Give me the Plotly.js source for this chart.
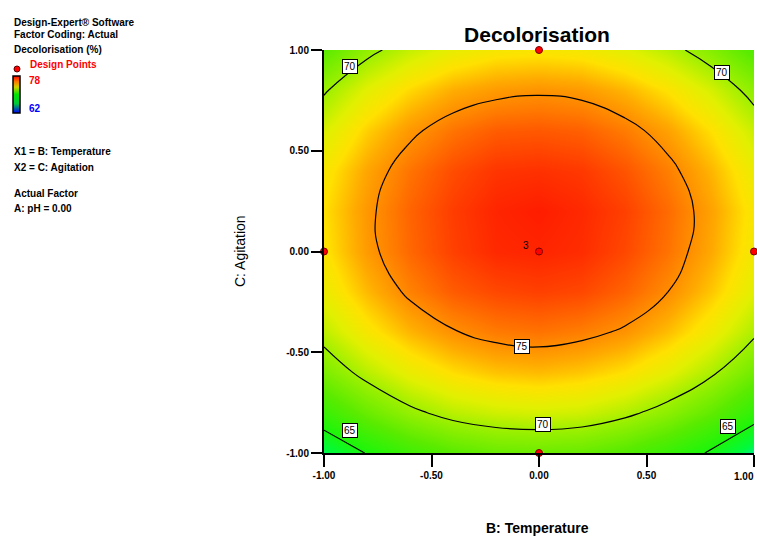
<!DOCTYPE html>
<html>
<head>
<meta charset="utf-8">
<script src="https://cdn.plot.ly/plotly-3.0.1.min.js"></script>
<style>html,body{margin:0;padding:0;background:#fff;}#chart{width:757px;height:536px;}</style>
</head>
<body>
<div id="chart"></div>
<script>
// Coded factor levels (B: Temperature on x, C: Agitation on y)
var gridX = [-1, -0.8, -0.6, -0.4, -0.2, 0, 0.2, 0.4, 0.6, 0.8, 1];
var gridY = [-1, -0.8, -0.6, -0.4, -0.2, 0, 0.2, 0.4, 0.6, 0.8, 1];
// Decolorisation (%), rows = gridY, cols = gridX
var decolor = [
  [63.3, 65.1, 66.5, 67.5, 68.1, 68.2, 68.0, 67.3, 66.2, 64.8, 62.8],
  [66.3, 68.1, 69.6, 70.6, 71.1, 71.3, 71.1, 70.4, 69.3, 67.8, 65.9],
  [68.8, 70.6, 72.0, 73.0, 73.6, 73.8, 73.5, 72.9, 71.8, 70.3, 68.4],
  [70.7, 72.5, 73.9, 74.9, 75.5, 75.7, 75.4, 74.8, 73.7, 72.2, 70.3],
  [72.0, 73.8, 75.3, 76.3, 76.8, 77.0, 76.8, 76.1, 75.0, 73.5, 71.6],
  [72.7, 74.6, 76.0, 77.0, 77.6, 77.7, 77.5, 76.8, 75.7, 74.2, 72.3],
  [72.9, 74.7, 76.1, 77.1, 77.7, 77.9, 77.6, 77.0, 75.9, 74.4, 72.5],
  [72.5, 74.3, 75.7, 76.7, 77.3, 77.4, 77.2, 76.5, 75.4, 73.9, 72.0],
  [71.4, 73.3, 74.7, 75.7, 76.3, 76.4, 76.2, 75.5, 74.4, 72.9, 71.0],
  [69.8, 71.7, 73.1, 74.1, 74.6, 74.8, 74.6, 73.9, 72.8, 71.3, 69.4],
  [67.6, 69.5, 70.9, 71.9, 72.5, 72.6, 72.4, 71.7, 70.6, 69.1, 67.2]
];
// Design points
var designX = [0, 0, -1, 1, 0];
var designY = [1, -1, 0, 0, 0];
// Contour labels
var labelText = ["70", "70", "75", "70", "65", "65"];
var labelX = [-0.88, 0.85, -0.08, 0.02, -0.88, 0.88];
var labelY = [0.92, 0.89, -0.47, -0.86, -0.89, -0.87];
var tickVals = [-1, -0.5, 0, 0.5, 1];
var tickText = ["-1.00", "-0.50", "0.00", "0.50", "1.00"];
var zLow = 62, zHigh = 78;

var cscale = [
  [0, 'rgb(0,0,255)'],
  [0.02, 'rgb(0,210,210)'],
  [0.06, 'rgb(0,240,120)'],
  [0.1, 'rgb(0,250,60)'],
  [0.2, 'rgb(30,245,10)'],
  [0.35, 'rgb(90,235,0)'],
  [0.5, 'rgb(160,240,0)'],
  [0.6, 'rgb(225,240,0)'],
  [0.68, 'rgb(255,225,0)'],
  [0.76, 'rgb(255,170,0)'],
  [0.84, 'rgb(255,125,0)'],
  [0.92, 'rgb(255,75,0)'],
  [1, 'rgb(255,25,0)']
];
var barScale = [
  [0, 'rgb(0,0,255)'],
  [0.25, 'rgb(0,200,60)'],
  [0.5, 'rgb(0,230,0)'],
  [0.7, 'rgb(210,210,0)'],
  [0.85, 'rgb(255,120,0)'],
  [1, 'rgb(255,0,0)']
];

var contour = {
  type: 'contour', x: gridX, y: gridY, z: decolor,
  zmin: zLow, zmax: zHigh, zauto: false,
  colorscale: cscale, showscale: false,
  contours: {coloring: 'heatmap', start: 65, end: 75, size: 5, showlabels: false},
  line: {color: '#000', width: 1.2, smoothing: 1.3},
  zsmooth: 'best',
  hoverinfo: 'skip'
};

var scaleKey = {
  type: 'scatter', mode: 'markers', x: [null], y: [null],
  marker: {color: [zLow], cmin: zLow, cmax: zHigh, colorscale: barScale, showscale: true,
    colorbar: {
      x: (13 - 324) / 430, xanchor: 'left', xpad: 0,
      y: (453 - 76) / 403, yanchor: 'top', ypad: 0,
      len: 37, lenmode: 'pixels', thickness: 7, thicknessmode: 'pixels',
      outlinewidth: 1.5, outlinecolor: '#000',
      showticklabels: false, ticks: ''
    }},
  hoverinfo: 'skip', showlegend: false
};

var points = {
  type: 'scatter', mode: 'markers', x: designX, y: designY,
  marker: {color: 'rgb(255,0,0)', size: 7, line: {color: 'rgb(120,0,0)', width: 1}},
  cliponaxis: false, hoverinfo: 'skip', showlegend: false
};

function px(x) { return (x - 324) / 430; }
function py(y) { return (453 - y) / 403; }

var legendFont = {family: 'Liberation Sans, Arial, sans-serif', size: 10, color: '#000', weight: 'bold'};
var ann = [];
function leftText(t, x, y, color) {
  ann.push({xref: 'paper', yref: 'paper', x: px(x), y: py(y), xanchor: 'left', yanchor: 'middle',
    text: t, showarrow: false, font: Object.assign({}, legendFont, color ? {color: color} : {})});
}
leftText('Design-Expert® Software', 12, 22);
leftText('Factor Coding: Actual', 12, 35);
leftText('Decolorisation (%)', 12, 49);
leftText('Design Points', 28, 64, 'rgb(255,0,0)');
leftText(String(zHigh), 27, 81, 'rgb(255,0,0)');
leftText(String(zLow), 27, 108, 'rgb(0,0,255)');
leftText('X1 = B: Temperature', 12, 152);
leftText('X2 = C: Agitation', 12, 167);
leftText('Actual Factor', 12, 193);
leftText('A: pH = 0.00', 12, 208);

for (var i = 0; i < labelText.length; i++) {
  ann.push({xref: 'x', yref: 'y', x: labelX[i], y: labelY[i], text: labelText[i], showarrow: false,
    bgcolor: '#fff', bordercolor: '#000', borderwidth: 1, borderpad: 1,
    font: {family: 'Liberation Sans, Arial, sans-serif', size: 10, color: '#000'}});
}
ann.push({xref: 'x', yref: 'y', x: -0.06, y: 0.03, text: '3', showarrow: false,
  font: {family: 'Liberation Sans, Arial, sans-serif', size: 10, color: '#000'}});
// last x tick label, kept inside the window
ann.push({xref: 'paper', yref: 'paper', x: px(756), y: py(477), text: tickText[4], showarrow: false,
  xanchor: 'right', yanchor: 'middle', font: {family: 'Liberation Sans, Arial, sans-serif', size: 10, color: '#000', weight: 'bold'}});
ann.push({xref: 'paper', yref: 'paper', x: px(537), y: py(528), text: 'B: Temperature', showarrow: false,
  xanchor: 'center', yanchor: 'middle',
  font: {family: 'Liberation Sans, Arial, sans-serif', size: 14, color: '#000', weight: 'bold'}});
ann.push({xref: 'paper', yref: 'paper', x: px(240), y: py(251), text: 'C: Agitation', showarrow: false,
  textangle: -90, xanchor: 'center', yanchor: 'middle',
  font: {family: 'Liberation Sans, Arial, sans-serif', size: 14, color: '#000'}});

var tickFont = {family: 'Liberation Sans, Arial, sans-serif', size: 10, color: '#000', weight: 'bold'};
var layout = {
  width: 757, height: 536,
  margin: {l: 324, r: 3, t: 50, b: 83},
  paper_bgcolor: '#fff', plot_bgcolor: '#fff',
  showlegend: false,
  title: {text: 'Decolorisation', xref: 'paper', x: px(537), xanchor: 'center', yref: 'container', y: 1 - 35 / 536, yanchor: 'middle',
    font: {family: 'Liberation Sans, Arial, sans-serif', size: 21, color: '#000', weight: 'bold'}},
  xaxis: {range: [-1, 1], tickvals: tickVals, ticktext: tickText, ticks: 'outside', ticklen: 12, tickwidth: 2,
    tickcolor: '#000', showline: true, linecolor: '#000', linewidth: 2, showgrid: false, zeroline: false,
    tickfont: tickFont, mirror: false},
  yaxis: {range: [-1, 1], tickvals: tickVals, ticktext: tickText, ticks: 'outside', ticklen: 11, tickwidth: 2,
    tickcolor: '#000', showline: true, linecolor: '#000', linewidth: 2, showgrid: false, zeroline: false,
    tickfont: tickFont, mirror: false},
  annotations: ann,
  shapes: [{type: 'circle', xref: 'paper', yref: 'paper', x0: px(14), x1: px(20), y0: py(72), y1: py(66),
    fillcolor: 'rgb(255,0,0)', line: {color: 'rgb(90,0,0)', width: 1}}]
};

Plotly.newPlot('chart', [contour, scaleKey, points], layout, {staticPlot: true, displayModeBar: false});
</script>
</body>
</html>
